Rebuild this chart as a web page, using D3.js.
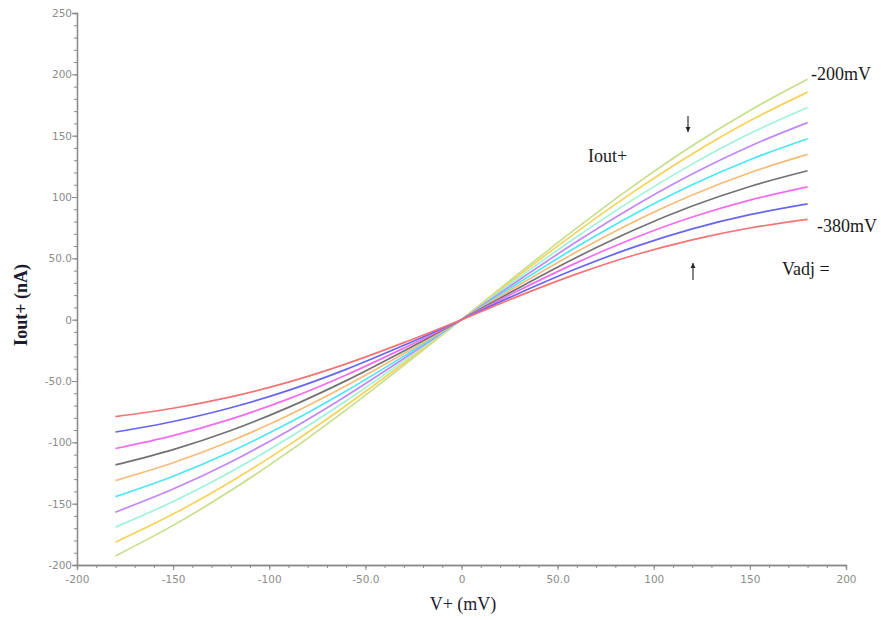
<!DOCTYPE html>
<html>
<head>
<meta charset="utf-8">
<script src="https://cdn.jsdelivr.net/npm/d3@7"></script>
<style>
  html, body { margin: 0; padding: 0; background: #ffffff; }
  svg { display: block; }
</style>
</head>
<body>
<svg id="chart" width="881" height="620"></svg>
<script>
// ---- data ----
const vPlus = [-180, -150, -120, -90, -60, -30, 0, 30, 60, 90, 120, 150, 180];
const vadjLabels = ["-200mV", "-220mV", "-240mV", "-260mV", "-280mV", "-300mV", "-320mV", "-340mV", "-360mV", "-380mV"];
const seriesColors = ["#c6df8c", "#f7d25a", "#9ff3d8", "#c487f5", "#4de6f7", "#f8bb78", "#727272", "#f26cf0", "#6666ee", "#f27474"];
const iout200 = [-192.6, -167.7, -139.3, -107.8, -73.5, -37.3, 0, 37.9, 74.8, 109.7, 141.8, 170.6, 196.0];
const iout220 = [-181.4, -158.5, -132.1, -102.5, -70.0, -35.5, 0, 36.3, 71.6, 104.8, 135.1, 162.1, 185.5];
const iout240 = [-169.1, -148.3, -124.0, -96.5, -66.1, -33.6, 0, 34.4, 67.6, 98.7, 126.8, 151.7, 173.0];
const iout260 = [-156.9, -138.1, -116.0, -90.5, -62.2, -31.7, 0, 32.4, 63.7, 92.7, 118.7, 141.4, 160.6];
const iout280 = [-144.3, -127.6, -107.6, -84.3, -58.1, -29.7, 0, 30.3, 59.4, 86.2, 110.0, 130.4, 147.5];
const iout300 = [-131.2, -116.7, -98.9, -77.9, -53.9, -27.6, 0, 28.3, 55.3, 80.0, 101.6, 119.8, 134.7];
const iout320 = [-118.4, -105.9, -90.3, -71.5, -49.7, -25.5, 0, 26.1, 50.9, 73.3, 92.6, 108.6, 121.4];
const iout340 = [-105.0, -94.5, -81.1, -64.6, -45.1, -23.2, 0, 24.0, 46.5, 66.6, 83.7, 97.5, 108.3];
const iout360 = [-91.6, -83.0, -71.8, -57.6, -40.5, -20.9, 0, 21.6, 41.7, 59.3, 74.0, 85.6, 94.4];
const iout380 = [-79.0, -72.2, -62.9, -50.9, -36.0, -18.7, 0, 19.4, 37.3, 52.7, 65.1, 74.7, 81.8];
const allSeries = [iout200, iout220, iout240, iout260, iout280, iout300, iout320, iout340, iout360, iout380];
const xTicks = [-200, -150, -100, -50, 0, 50, 100, 150, 200];
const yTicks = [-200, -150, -100, -50, 0, 50, 100, 150, 200, 250];
const xTickLabels = ["-200", "-150", "-100", "-50.0", "0", "50.0", "100", "150", "200"];
const yTickLabels = ["-200", "-150", "-100", "-50.0", "0", "50.0", "100", "150", "200", "250"];

// ---- drawing ----
const svg = d3.select("#chart");
const x = d3.scaleLinear().domain([-200, 200]).range([77, 846]);
const y = d3.scaleLinear().domain([-200, 250]).range([565, 13]);
const axisColor = "#8a8a8a";
const tickFont = "Tahoma, 'DejaVu Sans', sans-serif";

// minor ticks
const minorX = d3.range(-200, 201, 10);
const minorY = d3.range(-200, 251, 10);

const gx = svg.append("g").attr("transform", `translate(0,${y(-200)})`);
gx.call(d3.axisBottom(x).tickValues(minorX).tickSize(3).tickFormat(""));
gx.append("g").call(d3.axisBottom(x).tickValues(xTicks).tickSize(5)
  .tickFormat((d, i) => xTickLabels[i]));
gx.selectAll("path.domain").attr("stroke", axisColor).attr("stroke-width", 1.3);
gx.selectAll("line").attr("stroke", axisColor);
gx.selectAll("text").attr("fill", "#8c8c8c").style("font-family", tickFont).style("font-size", "10.5px").attr("dy", "0.95em");

const gy = svg.append("g").attr("transform", `translate(${x(-200)},0)`);
gy.call(d3.axisLeft(y).tickValues(minorY).tickSize(3).tickFormat(""));
gy.append("g").call(d3.axisLeft(y).tickValues(yTicks).tickSize(5)
  .tickFormat((d, i) => yTickLabels[i]));
gy.selectAll("path.domain").attr("stroke", axisColor).attr("stroke-width", 1.3);
gy.selectAll("line").attr("stroke", axisColor);
gy.selectAll("text").attr("fill", "#8c8c8c").style("font-family", tickFont).style("font-size", "10.5px").attr("x", -5);

// curves
const line = d3.line()
  .x((d, i) => x(vPlus[i]))
  .y(d => y(d))
  .curve(d3.curveMonotoneX);

svg.append("g").selectAll("path.curve")
  .data(allSeries)
  .join("path")
  .attr("class", "curve")
  .attr("fill", "none")
  .attr("stroke", (d, i) => seriesColors[i])
  .attr("stroke-width", 1.7)
  .attr("d", line);

// axis titles
const serif = "'Liberation Serif', 'Times New Roman', serif";
svg.append("text")
  .attr("x", 463).attr("y", 610)
  .attr("text-anchor", "middle")
  .style("font-family", serif)
  .style("font-size", "18px")
  .attr("fill", "#1c1c30")
  .text("V+ (mV)");

svg.append("text")
  .attr("transform", "translate(27,305) rotate(-90)")
  .attr("text-anchor", "middle")
  .style("font-family", serif)
  .style("font-size", "18px")
  .style("font-weight", "bold")
  .attr("fill", "#1c1c30")
  .text("Iout+ (nA)");

// annotations
function ann(tx, ty, str) {
  svg.append("text").attr("x", tx).attr("y", ty)
    .style("font-family", serif).style("font-size", "18px")
    .attr("fill", "#1a1a1a").text(str);
}
ann(811, 80, vadjLabels[0]);
ann(817, 232, vadjLabels[vadjLabels.length - 1]);
ann(782, 275, "Vadj =");
ann(588, 162, "Iout+");

// arrows
function arrow(ax, y1, y2) {
  svg.append("line").attr("x1", ax).attr("x2", ax).attr("y1", y1).attr("y2", y2)
    .attr("stroke", "#222").attr("stroke-width", 1.1);
  const dir = y2 > y1 ? 1 : -1;
  svg.append("path")
    .attr("d", `M${ax - 2.5},${y2 - dir * 5} L${ax + 2.5},${y2 - dir * 5} L${ax},${y2} Z`)
    .attr("fill", "#222");
}
arrow(688, 116, 132);
arrow(693, 280, 263);
</script>
</body>
</html>
